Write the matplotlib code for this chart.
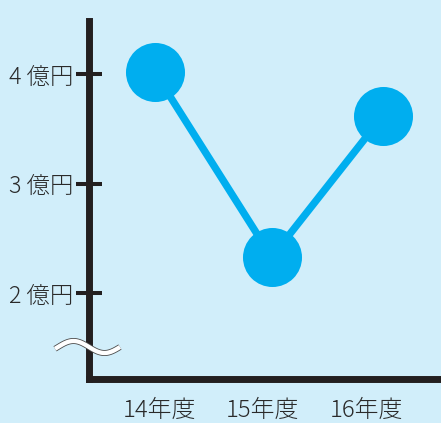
import numpy as np
import matplotlib
matplotlib.use("Agg")
from matplotlib import pyplot as plt

plt.rcParams['font.family'] = ['Noto Sans CJK JP', 'DejaVu Sans']
plt.rcParams['font.weight'] = 'light'

# data
years = ['14年度', '15年度', '16年度']
x_pos = [0.0, 1.0, 1.95]
label_pos = [0.04, 0.92, 1.81]
sales = [4.02, 2.33, 3.62]  # 億円
y_ticks = [2, 3, 4]
y_tick_labels = ['2 億円', '3 億円', '4 億円']

bg_color = '#d1eefa'
dot_color = '#00aeef'
axis_color = '#231f20'
text_color = '#2a2a2a'

W, H = 441, 423
fig = plt.figure(figsize=(W / 100, H / 100), dpi=100, facecolor=bg_color)
ax = fig.add_axes([89 / W, (H - 378.5) / H, (W - 89) / W, (378.5 - 20.5) / H])
ax.set_facecolor(bg_color)

ax.plot(x_pos, sales, color=dot_color, lw=5.3, marker='o', markersize=42.5,
        markeredgewidth=0, solid_capstyle='butt', zorder=3, clip_on=False)

ax.set_xlim(-0.559, 2.445)
ax.set_ylim(1.223, 4.488)

for side in ['top', 'right']:
    ax.spines[side].set_visible(False)
for side in ['left', 'bottom']:
    ax.spines[side].set_linewidth(5.0)
    ax.spines[side].set_color(axis_color)
    ax.spines[side].set_capstyle('projecting')

ax.set_yticks(y_ticks)
ax.set_yticklabels(y_tick_labels)
ax.tick_params(axis='y', direction='inout', length=18.7, width=2.9,
               color=axis_color, pad=2, labelsize=16.8, labelcolor=text_color)

ax.set_xticks(label_pos)
ax.set_xticklabels(years)
ax.tick_params(axis='x', length=0, pad=14, labelsize=17.2, labelcolor=text_color)

# axis break mark (wavy line over the y axis)
wx = np.linspace(55, 120, 120)
wy = 347 - 6 * np.sin(2 * np.pi * (wx - 58) / 62)
fx, fy = wx / W, 1 - wy / H
fig.add_artist(plt.Line2D(fx, fy, color='#4a4a4a', lw=4.3, solid_capstyle='butt', zorder=10))
fig.add_artist(plt.Line2D(fx, fy, color='white', lw=3.1, solid_capstyle='butt', zorder=11))

fig.savefig('out.png', dpi=100, facecolor=bg_color)
